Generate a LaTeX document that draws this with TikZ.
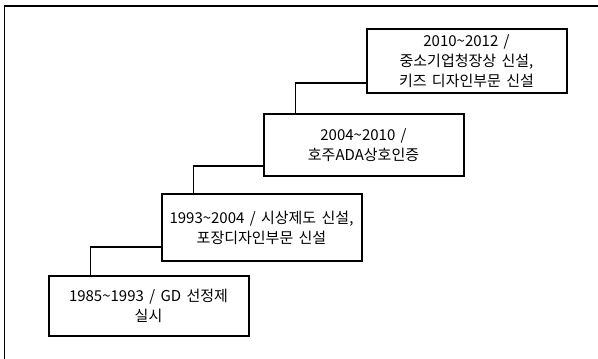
\documentclass[tikz,border=0pt]{standalone}
\usepackage{fontspec}
\setmainfont[WordSpace=1.6]{Noto Sans CJK KR}
\usetikzlibrary{positioning}
\tikzset{
  box/.style       = { rectangle, minimum width=200pt, inner sep=2pt },
  border/.style    = { line width=2pt, draw=black },
  stage/.style     = { box, border, align=center,
                       font=\fontsize{15pt}{20pt}\selectfont },
  link/.style      = { line width=1.9pt },
  frame/.style     = { line width=1.9pt, line cap=rect }
}

\begin{document}
\begin{tikzpicture}[x=1pt,y=1pt,text=black]
  \useasboundingbox (0,0) rectangle (598,359);

  \draw [frame] (4.5,0) -- (4.5,353) -- (597,353);

  \node (s1985) [stage,minimum height=60pt] at (148.5,53)                    {1985\textasciitilde1993 / GD 선정제\\실시};
  \node (s1993) [stage,minimum height=67pt,above right=13pt and -89pt of s1985] {1993\textasciitilde2004 / 시상제도 신설,\\포장디자인부문 신설};
  \node (s2004) [stage,minimum height=62pt,above right=16pt and -100pt of s1993] {2004\textasciitilde2010 /\\호주ADA상호인증};
  \node (s2010) [stage,minimum height=64pt,above right=19pt and -99pt of s2004]  {2010\textasciitilde2012 /\\중소기업청장상 신설,\\키즈 디자인부문 신설};

  \draw [link] ([xshift=43pt]s1985.north west) |- ([yshift=15pt]s1993.south west);
  \draw [link] ([xshift=33pt]s1993.north west) |- ([yshift=11pt]s2004.south west);
  \draw [link] ([xshift=33pt]s2004.north west) |- ([yshift=11pt]s2010.south west);
\end{tikzpicture}
\end{document}
